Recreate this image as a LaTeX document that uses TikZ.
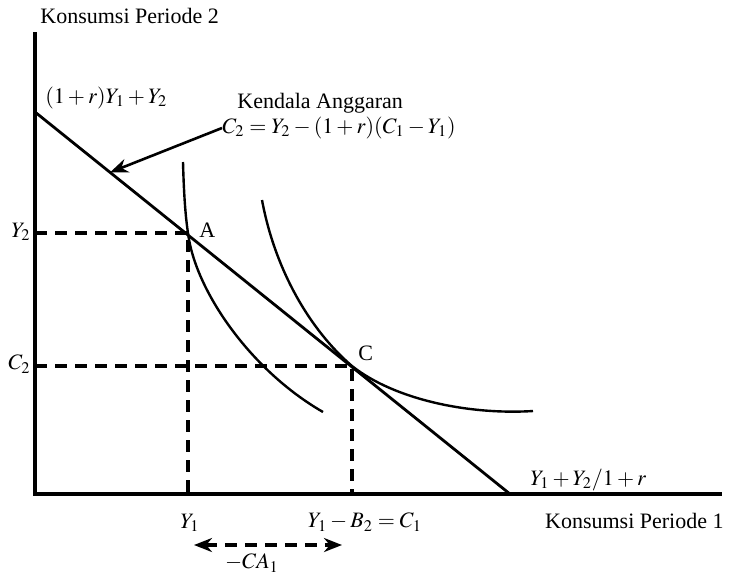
\documentclass[tikz,border=0pt]{standalone}
\usepackage{mathptmx}
\usepackage{fontspec}
\setmainfont{Liberation Serif}
\usetikzlibrary{calc,arrows.meta}

\begin{document}
\begin{tikzpicture}[x=0.5pt,y=-0.5pt,
    axis/.style={line width=1.6pt},
    budget/.style={line width=1.4pt},
    indiff/.style={line width=1.2pt},
    guide/.style={line width=1.7pt, dash pattern=on 6pt off 4pt},
    lbl/.style={inner sep=0pt, font=\fontsize{11}{13}\selectfont}]
\useasboundingbox (0,0) rectangle (733,575);

% Axes
\coordinate (O) at (35,494);
\coordinate (ytop) at (35,32);
\coordinate (xend) at (722,494);
\draw[axis] (ytop) -- (O) -- (xend);
\node[lbl, anchor=west] (ylab) at (40,16) {Konsumsi Periode 2};
\node[lbl, anchor=east] (xlab) at (724,521) {Konsumsi Periode 1};

% Budget line
\coordinate (b0) at (35,112);
\coordinate (b1) at (510,494);
\draw[budget] (b0) -- (b1);
\node[lbl, anchor=west] (yint) at (45,98) {$(1+r)Y_1+Y_2$};
\node[lbl, anchor=west] (xint) at (530,480) {$Y_1+Y_2/1+r$};

% Points A and C
\coordinate (A) at (188,233);
\coordinate (C) at (352,366);
\node[lbl, anchor=west] (Alab) at (199,230) {A};
\node[lbl, anchor=west] (Clab) at (358,353) {C};

% Indifference curves
\draw[indiff] (183,162) .. controls (184,200) and (186,220) .. (A)
    .. controls (195,290) and (250,370) .. (323,412);
\draw[indiff] (262,200) .. controls (275,270) and (310,330) .. (C)
    .. controls (395,400) and (470,415) .. (533,411);

% Guide lines
\coordinate (Ay) at (O |- A);
\coordinate (Ax) at (A |- O);
\coordinate (Cy) at (O |- C);
\coordinate (Cx) at (C |- O);
\draw[guide] (Ay) -- (A) -- (Ax);
\draw[guide] (Cy) -- (C) -- (Cx);
\node[lbl, anchor=east] (Y2lab) at (31,232) {$Y_2$};
\node[lbl, anchor=east] (C2lab) at (31,364) {$C_2$};
\node[lbl] (Y1lab) at (190,523) {$Y_1$};
\node[lbl] (C1lab) at (365,522) {$Y_1-B_2=C_1$};

% Budget label with arrow
\node[lbl, anchor=west] (kend) at (237,103) {Kendala Anggaran};
\node[lbl, anchor=west] (eqn) at (222,128) {$C_2=Y_2-(1+r)(C_1-Y_1)$};
\coordinate (bpt) at ($(b0)!0.158!(b1)$);
\draw[line width=1.3pt, -{Stealth[length=9pt,width=7pt]}] (eqn.west) -- (bpt);

% Current account
\coordinate (caL) at (194,545);
\coordinate (caR) at (342,545);
\draw[guide, {Stealth[length=9pt,width=7pt]}-{Stealth[length=9pt,width=7pt]}] (caL) -- (caR);
\node[lbl] (calab) at (252,563) {$-CA_1$};

\end{tikzpicture}
\end{document}
